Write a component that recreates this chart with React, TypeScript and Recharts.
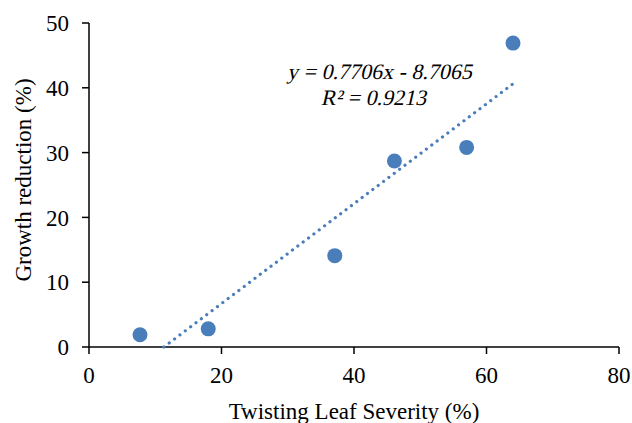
import React from 'react';
import { ScatterChart, Scatter, XAxis, YAxis } from 'recharts';

// severity (%) vs growth reduction (%)
const severity = [7.7, 18, 37.1, 46.1, 57, 64];
const reduction = [1.9, 2.8, 14.1, 28.7, 30.8, 46.9];

const xTicks = [0, 20, 40, 60, 80];
const yTicks = [0, 10, 20, 30, 40, 50];

// linear trendline as printed on the chart
const slope = 0.7706;
const intercept = -8.7065;
const rSquared = 0.9213;

const blue = '#4a7ebb';
const font = 'Liberation Serif';

const points = severity.map((x, i) => ({ x, y: reduction[i] }));

const trendStart = -intercept / slope;
const trendEnd = Math.max(...severity);
const trend = [
  { x: trendStart, y: slope * trendStart + intercept },
  { x: trendEnd, y: slope * trendEnd + intercept },
];

const Marker = (props: any) => {
  const { cx, cy } = props;
  return <circle cx={cx} cy={cy} r={7.5} fill={blue} />;
};

const NoMarker = () => <g />;

const tickStyle = { fontFamily: font, fontSize: 23, fill: '#000' };

// no serif italic face is installed, so lean the upright one
const slanted = (left: number, top: number): React.CSSProperties => ({
  position: 'absolute',
  left,
  top,
  transform: 'translateX(-50%) skewX(-13deg)',
  fontSize: 22,
  lineHeight: 1,
  color: '#000',
  whiteSpace: 'nowrap',
});

export default function App() {
  return (
    <div style={{ position: 'relative', width: 632, height: 423, fontFamily: font }}>
      <style>{'body { margin: 0; } .recharts-surface { overflow: visible; }'}</style>
      <ScatterChart
        width={632}
        height={423}
        margin={{ top: 23, right: 13, bottom: 26, left: 0 }}
      >
        <XAxis
          type="number"
          dataKey="x"
          domain={[0, 80]}
          ticks={xTicks}
          height={50}
          tickSize={7}
          tickMargin={13}
          tick={tickStyle}
          axisLine={{ stroke: '#000', strokeWidth: 1.5 }}
          tickLine={{ stroke: '#000', strokeWidth: 1.5 }}
          label={{
            value: 'Twisting Leaf Severity (%)',
            position: 'insideBottom',
            offset: -22,
            style: { fontFamily: font, fontSize: 23, fill: '#000' },
          }}
        />
        <YAxis
          type="number"
          dataKey="y"
          domain={[0, 50]}
          ticks={yTicks}
          width={89}
          tickSize={7}
          tickMargin={13}
          tick={tickStyle}
          axisLine={{ stroke: '#000', strokeWidth: 1.5 }}
          tickLine={{ stroke: '#000', strokeWidth: 1.5 }}
        />
        <Scatter data={points} shape={<Marker />} isAnimationActive={false} />
        <Scatter
          data={trend}
          shape={<NoMarker />}
          line={{ stroke: blue, strokeWidth: 3.2, strokeDasharray: '0.01 6.7', strokeLinecap: 'round' }}
          isAnimationActive={false}
        />
      </ScatterChart>
      <div
        style={{
          position: 'absolute',
          left: 23,
          top: 180,
          transform: 'translate(-50%, -50%) rotate(-90deg)',
          whiteSpace: 'nowrap',
          fontSize: 23,
          lineHeight: 1,
          color: '#000',
        }}
      >
        Growth reduction (%)
      </div>
      <div style={slanted(381, 61)}>
        y = {slope}x - {Math.abs(intercept)}
      </div>
      <div style={slanted(375, 87)}>
        R² = {rSquared}
      </div>
    </div>
  );
}
